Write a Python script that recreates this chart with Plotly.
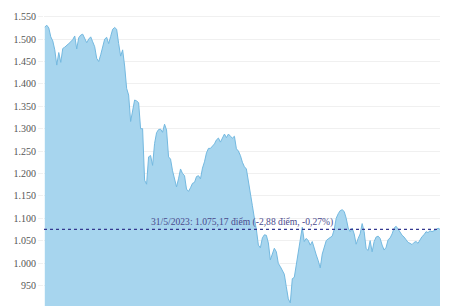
import plotly.graph_objects as go

values = [
    1527, 1531, 1525, 1505, 1496, 1476, 1442, 1470, 1448, 1479,
    1482, 1487, 1490, 1494, 1499, 1507, 1478, 1503, 1509, 1511,
    1500, 1492, 1500, 1505, 1494, 1483, 1457, 1450, 1465, 1483,
    1500, 1504, 1490, 1506, 1522, 1526, 1522, 1490, 1462, 1476,
    1440, 1390, 1375, 1316, 1345, 1364, 1362, 1358, 1300, 1300,
    1185, 1176, 1237, 1240, 1218, 1267, 1291, 1298, 1299, 1292,
    1310, 1297, 1237, 1232, 1206, 1184, 1170, 1188, 1210, 1200,
    1195, 1165, 1160, 1168, 1178, 1180, 1193, 1195, 1188, 1212,
    1226, 1246, 1256, 1256, 1260, 1266, 1275, 1279, 1270, 1280,
    1288, 1280, 1288, 1283, 1279, 1283, 1255, 1250, 1240, 1225,
    1215, 1210, 1185, 1156, 1128, 1100, 1075, 1040, 1034, 1056,
    1063, 1062, 1045, 1007, 1020, 1033, 1025, 999, 992, 985,
    975, 947, 920, 911, 965, 968, 995, 1020, 1046, 1080,
    1048, 1055, 1050, 1040, 1048, 1030, 1018, 1005, 989, 1020,
    1033, 1050, 1054, 1058, 1060, 1075, 1100, 1110, 1117, 1119,
    1115, 1100, 1078, 1070, 1078, 1065, 1042, 1055, 1065, 1088,
    1070, 1032, 1028, 1050, 1025, 1048, 1058, 1060, 1055, 1040,
    1029, 1035, 1052, 1056, 1065, 1078, 1082, 1076, 1068, 1062,
    1058, 1052, 1046, 1044, 1041, 1046, 1048, 1044, 1052, 1059,
    1063, 1070, 1068, 1072, 1070, 1072, 1074, 1078, 1075.17,
]
x_index = list(range(len(values)))

last_close = 1075.17
label_text = "31/5/2023: 1.075,17 điểm (-2,88 điểm, -0,27%)"
y_tick_values = [900, 950, 1000, 1050, 1100, 1150, 1200, 1250, 1300,
                 1350, 1400, 1450, 1500, 1550]

fig = go.Figure()
fig.add_trace(go.Scatter(
    x=x_index, y=values, mode="lines",
    line=dict(color="#74b9e0", width=1),
    fill="tozeroy", fillcolor="#a7d5ee",
    hoverinfo="skip", showlegend=False,
))

fig.add_hline(y=last_close, line=dict(color="#34388f", width=1.2, dash="dot"))

fig.add_annotation(
    xref="paper", yref="y", x=0.5, y=last_close,
    text=label_text, showarrow=False, xanchor="center", yanchor="bottom",
    yshift=-1,
    font=dict(family="Liberation Serif", size=9.6, color="#4a4a8c"),
)

fig.update_layout(
    width=470, height=306,
    margin=dict(l=44, r=30, t=10, b=0),
    paper_bgcolor="white", plot_bgcolor="white",
    separators=",.",
    xaxis=dict(
        range=[-0.4, len(values) - 1], showgrid=False, showticklabels=False,
        zeroline=False, showline=False, ticks="",
    ),
    yaxis=dict(
        range=[904, 1565], tickvals=y_tick_values, tickformat=",",
        showgrid=True, gridcolor="#f0f0f0", gridwidth=1,
        zeroline=False, showline=False,
        ticks="outside", ticklen=5, tickcolor="#f0f0f0",
        tickfont=dict(family="Liberation Serif", size=10, color="#555555"),
    ),
)

fig.write_html("out.html")
